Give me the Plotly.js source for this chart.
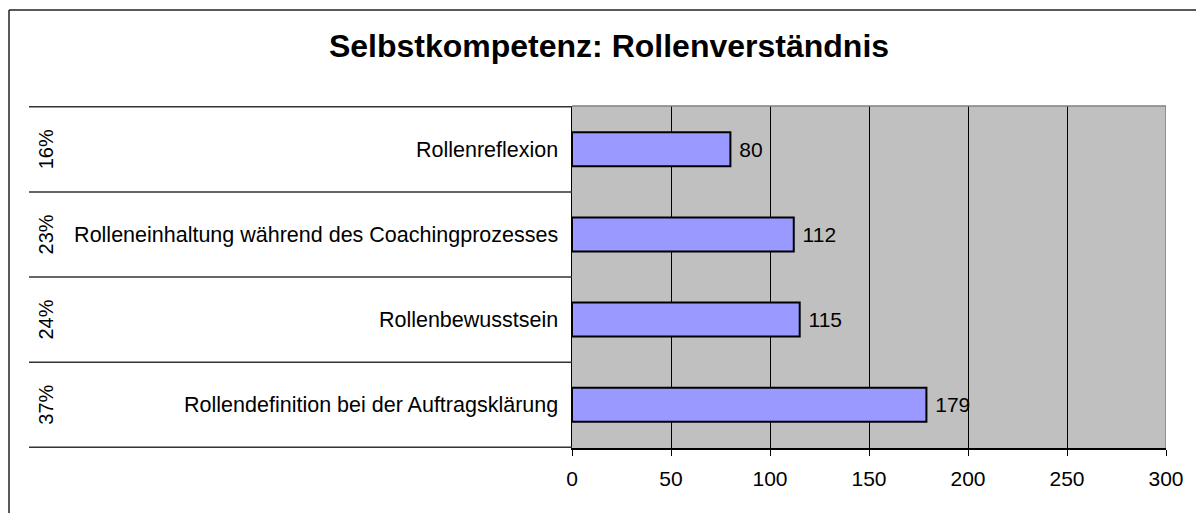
<!DOCTYPE html>
<html>
<head>
<meta charset="utf-8">
<script src="https://cdn.plot.ly/plotly-3.0.1.min.js"></script>
<style>
  html, body { margin: 0; padding: 0; background: #fff; overflow: hidden; }
  #chart { width: 1196px; height: 513px; }
</style>
</head>
<body>
<div id="chart"></div>
<script>
var categories = ['Rollenreflexion',
                  'Rolleneinhaltung während des Coachingprozesses',
                  'Rollenbewusstsein',
                  'Rollendefinition bei der Auftragsklärung'];
var counts = [80, 112, 115, 179];
var shares = ['16%', '23%', '24%', '37%'];
var xTicks = [0, 50, 100, 150, 200, 250, 300];

var font = 'Liberation Sans, Arial, sans-serif';

var trace = {
    type: 'bar',
    orientation: 'h',
    x: counts,
    y: categories,
    texttemplate: '\u00a0%{x}',
    textposition: 'outside',
    cliponaxis: false,
    textfont: {family: font, size: 21, color: '#000'},
    marker: {
        color: '#9999FF',
        line: {color: '#000', width: 2}
    },
    hoverinfo: 'none'
};

// helper: pixel -> paper, plot box is 572..1166 x 106..448
var px = function (p) { return (p - 572) / 594; };
var py = function (p) { return (448 - p) / 342; };

var shapes = [];
// outer frame: only left and top edges are inside the picture
shapes.push({type: 'line', xref: 'paper', yref: 'paper',
    x0: px(9), x1: px(9), y0: py(513), y1: py(10),
    line: {color: '#222', width: 1.5}});
shapes.push({type: 'line', xref: 'paper', yref: 'paper',
    x0: px(9), x1: px(1196), y0: py(10), y1: py(10),
    line: {color: '#222', width: 1.5}});
// row separators across the label area
for (var i = 0; i <= categories.length; i++) {
    shapes.push({type: 'line', xref: 'paper', yref: 'y',
        x0: px(29), x1: 0, y0: i - 0.5, y1: i - 0.5,
        line: {color: '#333', width: 1.5}});
}
// plot border top and right
shapes.push({type: 'line', xref: 'paper', yref: 'paper',
    x0: 0, x1: 1, y0: 1, y1: 1, line: {color: '#808080', width: 1.5}});
shapes.push({type: 'line', xref: 'x', yref: 'paper',
    x0: 300, x1: 300, y0: 0, y1: 1, line: {color: '#808080', width: 1.5}});

var annotations = shares.map(function (s, i) {
    return {xref: 'paper', yref: 'y', x: px(46), y: categories[i],
        xanchor: 'center', yanchor: 'middle',
        text: s, textangle: -90, showarrow: false,
        font: {family: font, size: 20, color: '#000'}};
});

var layout = {
    width: 1196,
    height: 513,
    margin: {l: 572, r: 30, t: 106, b: 65},
    paper_bgcolor: '#fff',
    plot_bgcolor: '#C0C0C0',
    showlegend: false,
    bargap: 0.6,
    font: {family: font, size: 21, color: '#000'},
    title: {
        text: '<b>Selbstkompetenz: Rollenverständnis</b>',
        font: {family: font, size: 32, color: '#000'},
        xref: 'container', x: 609 / 1196, xanchor: 'center',
        yref: 'container', y: 1 - 46 / 513, yanchor: 'middle'
    },
    xaxis: {
        range: [0, 300],
        tickvals: xTicks,
        ticks: 'outside', ticklen: 6, tickcolor: '#000', tickwidth: 1,
        ticklabelstandoff: 5,
        showgrid: true, gridcolor: '#000', gridwidth: 1,
        showline: true, linecolor: '#000', linewidth: 1.5,
        zeroline: false,
        tickfont: {family: font, size: 21, color: '#000'},
        fixedrange: true
    },
    yaxis: {
        type: 'category',
        autorange: 'reversed',
        ticks: '',
        ticklabelstandoff: 8,
        showgrid: false,
        showline: true, linecolor: '#000', linewidth: 1.5,
        zeroline: false,
        tickfont: {family: font, size: 21.5, color: '#000'},
        automargin: false,
        fixedrange: true
    },
    shapes: shapes,
    annotations: annotations
};

Plotly.newPlot('chart', [trace], layout, {displayModeBar: false, staticPlot: true});
</script>
</body>
</html>
